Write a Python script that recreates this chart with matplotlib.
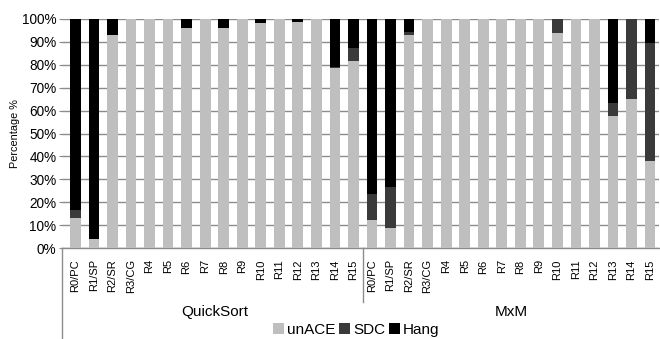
import matplotlib
matplotlib.use("Agg")
import matplotlib.pyplot as plt
import matplotlib.transforms as mtransforms
import numpy as np

plt.rcParams["font.family"] = ["Liberation Sans", "DejaVu Sans"]

# ---------------------------------------------------------------------------
# Data (percent of injected faults per register)
# ---------------------------------------------------------------------------
registers = ["R0/PC", "R1/SP", "R2/SR", "R3/CG", "R4", "R5", "R6", "R7",
             "R8", "R9", "R10", "R11", "R12", "R13", "R14", "R15"]
benchmarks = ["QuickSort", "MxM"]

quicksort_unace = [13.0, 4.2, 93.0, 100, 100, 100, 95.9, 100,
                   95.9, 100, 98.4, 100, 98.5, 100, 78.5, 81.7]
quicksort_sdc = [3.6, 0, 0, 0, 0, 0, 0, 0,
                 0, 0, 0, 0, 0, 0, 0.7, 5.5]

mxm_unace = [12.2, 9.0, 93.0, 100, 100, 100, 100, 100,
             100, 100, 93.7, 100, 100, 57.8, 65.0, 38.0]
mxm_sdc = [11.4, 17.8, 1.5, 0, 0, 0, 0, 0,
           0, 0, 6.3, 0, 0, 5.6, 35.0, 51.4]

unace = np.array(quicksort_unace + mxm_unace)
sdc = np.array(quicksort_sdc + mxm_sdc)
hang = 100 - unace - sdc

labels = registers * len(benchmarks)
x = np.arange(len(labels))

# ---------------------------------------------------------------------------
# Figure
# ---------------------------------------------------------------------------
line_grey = "#8c8c8c"
fig = plt.figure(figsize=(6.6, 3.39), dpi=100)
ax = fig.add_axes([0.094, 0.268, 0.905, 0.676])

w = 0.58
ax.bar(x, unace, w, color="#bfbfbf", label="unACE", zorder=3)
ax.bar(x, sdc, w, bottom=unace, color="#3a3a3a", label="SDC", zorder=3)
ax.bar(x, hang, w, bottom=unace + sdc, color="#000000", label="Hang",
       zorder=3)

ax.set_xlim(-0.72, len(labels) - 0.5)
ax.set_ylim(0, 100)
ax.set_yticks(np.arange(0, 101, 10))
ax.set_yticklabels([f"{v}%" for v in range(0, 101, 10)], fontsize=9.8)
ax.yaxis.grid(True, color=line_grey, lw=1.0, zorder=0)
ax.set_axisbelow(True)
ax.tick_params(axis="y", length=2.5, color=line_grey, pad=1.5)

ax.set_xticks(x)
ax.set_xticklabels(labels, rotation=90, fontsize=8)
ax.tick_params(axis="x", length=0, pad=8)

for side in ("top", "right", "left"):
    ax.spines[side].set_visible(False)
ax.spines["bottom"].set_color(line_grey)
ax.spines["bottom"].set_linewidth(1.0)

ax.set_ylabel("Percentage %", fontsize=7.8, labelpad=1)

# group frame lines below the axis
trans = mtransforms.blended_transform_factory(ax.transData, ax.transAxes)
ax.plot([-0.72, -0.72], [0, -0.42], transform=trans, color=line_grey,
        lw=1.0, clip_on=False)
sep = len(registers) - 0.5
ax.plot([sep, sep], [0, -0.235], transform=trans, color=line_grey,
        lw=1.0, clip_on=False)

for i, name in enumerate(benchmarks):
    center = i * len(registers) + (len(registers) - 1) / 2
    ax.text(center, -0.28, name, transform=trans, ha="center",
            va="center", fontsize=11)

fig.legend(loc="center", bbox_to_anchor=(0.54, 0.028), ncol=3,
           frameon=False, fontsize=11, handlelength=0.7,
           handleheight=0.7, handletextpad=0.2, columnspacing=0.25,
           borderaxespad=0, borderpad=0)

fig.savefig("out.png", dpi=100)
